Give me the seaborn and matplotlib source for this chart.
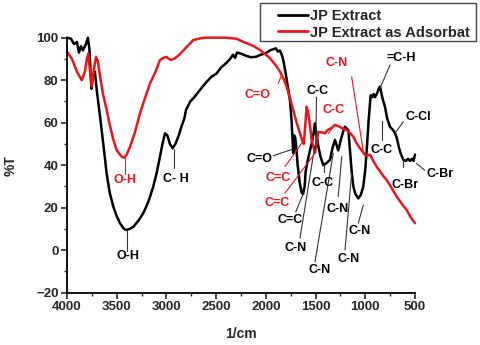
import numpy as np
import pandas as pd
import matplotlib
matplotlib.use('Agg')
import matplotlib.pyplot as plt
import seaborn as sns
from matplotlib.ticker import MultipleLocator
from matplotlib.patches import Rectangle

# JP Extract (black)
wn_extract = [4000, 3960, 3930, 3900, 3880, 3860, 3840, 3810, 3790, 3775, 3755, 3740, 3720, 3700,
              3668, 3630, 3601, 3570, 3534, 3500, 3467, 3430, 3407, 3370, 3333, 3280, 3233, 3180,
              3132, 3100, 3065, 3040, 3014, 2990, 2965, 2938, 2910, 2880, 2850, 2820, 2803, 2760,
              2720, 2663, 2600, 2550, 2495, 2450, 2400, 2360, 2330, 2310, 2290, 2250, 2200, 2150,
              2100, 2050, 2000, 1960, 1930, 1900, 1880, 1860, 1840, 1825, 1800, 1780, 1758, 1740,
              1730, 1725, 1715, 1705, 1695, 1680, 1660, 1640, 1625, 1610, 1600, 1580, 1556, 1540,
              1520, 1506, 1495, 1485, 1473, 1450, 1422, 1390, 1355, 1330, 1305, 1285, 1272, 1240,
              1215, 1204, 1180, 1170, 1150, 1135, 1120, 1100, 1070, 1045, 1020, 1000, 986, 965,
              946, 930, 915, 903, 880, 865, 852, 830, 802, 780, 751, 720, 700, 684, 660, 640, 617,
              590, 570, 550, 530, 515, 500]
t_extract = [100, 99.5, 97, 98, 93, 96, 94, 97, 100, 95, 76, 82, 84, 75,
             63, 48, 36, 27, 20.5, 16, 12.7, 10.2, 9.5, 10, 11, 14, 17.4, 23,
             30, 36, 44, 50, 55, 54, 50, 48, 50, 53.5, 58, 62, 66, 70,
             72, 75.4, 79, 81.5, 83.2, 86, 88, 90, 92, 90.5, 93, 92.5, 91.5, 90.8,
             91, 92, 92.7, 94, 94.5, 95, 93.5, 94, 92, 89.5, 83, 77, 70.7, 60,
             50, 45.6, 54, 53, 49, 40, 32, 27, 26.5, 30, 37, 42, 47, 50,
             55, 59.7, 55, 53, 49, 44, 40, 41, 42.5, 48, 51.9, 49, 47, 53,
             57, 58.1, 57, 56.5, 45, 36, 30, 26.5, 24.4, 26, 30, 38, 47, 62,
             73, 72, 73.5, 72, 74, 76, 77, 72, 67.5, 62, 58, 56.5, 55, 53, 48, 45, 42.5,
             42, 43, 42, 43, 42, 45]

# JP Extract as Adsorbat (red)
wn_adsorbat = [4000, 3950, 3900, 3852, 3820, 3800, 3786, 3770, 3752, 3730, 3708, 3690, 3668, 3640,
               3601, 3570, 3534, 3500, 3450, 3425, 3400, 3366, 3320, 3266, 3220, 3165, 3110, 3065,
               3030, 3000, 2975, 2950, 2910, 2863, 2800, 2729, 2650, 2596, 2500, 2400, 2294, 2250,
               2193, 2120, 2059, 2000, 1958, 1900, 1858, 1820, 1791, 1760, 1725, 1690, 1657, 1630,
               1618, 1605, 1590, 1575, 1556, 1540, 1523, 1506, 1490, 1473, 1440, 1407, 1380, 1340,
               1305, 1280, 1255, 1220, 1187, 1150, 1120, 1090, 1053, 1020, 1003, 980, 953, 920,
               886, 850, 820, 785, 750, 720, 684, 650, 620, 584, 550, 520, 500]
t_adsorbat = [93.4, 90, 84, 80, 84, 90, 92.5, 85, 77, 85, 91, 89, 82, 74,
              66, 59, 52, 47, 44, 43.5, 45, 48.7, 55, 64.4, 71, 78.5, 84, 89.5,
              90.5, 91, 90, 89.5, 90.5, 92.3, 95.5, 98.9, 99.8, 100, 100, 100, 99.5, 98.5,
              97.4, 96, 94.2, 92, 90.3, 87, 84, 80.5, 77, 72, 66, 60, 55, 51,
              50, 58, 67.5, 65, 58.5, 52, 48.7, 46, 50, 55.7, 55.5, 55, 56.5, 57.5,
              59, 58.5, 58, 57, 56.5, 55, 53.4, 50.5, 48, 46, 44.8, 44.5, 45, 42,
              39.3, 37, 35, 33, 30.5, 28, 25.2, 23, 21, 19, 16, 14, 12.7]

series_names = ['JP Extract', 'JP Extract as Adsorbat']
series_colors = ['black', '#e8161b']

# peak labels: text, text x, text y, leader start (x, y), leader end (x, y), colour
peak_labels = ['O-H', 'C- H', 'C=O', 'C-C', 'C=C', 'C-N', 'C-C', 'C-N', 'C-N', 'C-N', 'C-N',
               'C-C', '=C-H', 'C-Cl', 'C-Br', 'C-Br',
               'O-H', 'C=O', 'C=C', 'C=C', 'C-C', 'C-N']
label_x = [3383, 2904, 2066, 1483, 1757, 1697, 1430, 1463, 1282, 1171, 1053,
           835, 634, 467, 601, 249,
           3417, 2086, 1875, 1885, 1322, 1288]
label_y = [-2.5, 33.5, 43, 75, 14, 1, 31.5, -9.5, 19.5, -4, 9,
           47, 90.3, 62.5, 30.7, 35.8,
           33, 73, 33.8, 22, 66, 88]
lead_x0 = [3400, 2925, 1925, 1490, 1700, 1657, 1420, 1506, 1272, 1204, 1070,
           835, 751, 617, 617, 488,
           3417, 1875, 1808, 1808, 1372, 1137]
lead_y0 = [9, 47.5, 44.5, 72, 18, 5.6, 37, -5.4, 25.2, 0.1, 12.7,
           61, 87.2, 60.5, 44, 40.9,
           44, 78.5, 39.3, 26.8, 55, 81.6]
lead_x1 = [3400, 2925, 1725, 1500, 1620, 1506, 1420, 1322, 1237, 1137, 1020,
           835, 852, 701, 617, 404,
           3417, 1841, 1640, 1506, 1338, 1020]
lead_y1 = [-0.5, 38.6, 47.6, 47, 27, 49.5, 40, 45.6, 44, 36.2, 21.3,
           52, 76.2, 55, 39, 37.7,
           36, 82.5, 50.3, 45.6, 57, 46.4]
label_color = ['black'] * 16 + ['#e8161b'] * 6

df = pd.concat([
    pd.DataFrame({'wn': wn_extract, 'T': t_extract, 'sample': series_names[0]}),
    pd.DataFrame({'wn': wn_adsorbat, 'T': t_adsorbat, 'sample': series_names[1]}),
])

sns.set_style('ticks')
plt.rcParams['font.family'] = ['Liberation Sans', 'DejaVu Sans']
plt.rcParams['font.weight'] = 'bold'

W, H = 480, 345
fig = plt.figure(figsize=(W / 100, H / 100), dpi=100)
ax = fig.add_axes([67 / W, 1 - 292.7 / H, 348 / W, 255 / H])

sns.lineplot(data=df, x='wn', y='T', hue='sample', palette=series_colors,
             estimator=None, sort=False, linewidth=1.8, ax=ax, legend=False)

ax.set_xlim(4000, 500)
ax.set_ylim(-20, 100)
ax.xaxis.set_major_locator(MultipleLocator(500))
ax.xaxis.set_minor_locator(MultipleLocator(250))
ax.yaxis.set_major_locator(MultipleLocator(20))
ax.yaxis.set_minor_locator(MultipleLocator(10))
ax.tick_params(which='major', length=4, width=1.2, labelsize=9.5, pad=2)
ax.tick_params(which='minor', length=2.5, width=1.0)
for lab in ax.get_xticklabels() + ax.get_yticklabels():
    lab.set_fontweight('bold')
sns.despine(ax=ax)
for s in ['left', 'bottom']:
    ax.spines[s].set_linewidth(1.3)
    ax.spines[s].set_color('black')
for ln in ax.get_lines():
    ln.set_clip_on(False)

ax.set_xlabel('1/cm', fontsize=10, fontweight='bold', labelpad=10)
ax.set_ylabel('%T', fontsize=10, fontweight='bold', labelpad=13)

for i, lab in enumerate(peak_labels):
    c = label_color[i]
    lc = '#333333' if c == 'black' else c
    ax.plot([lead_x0[i], lead_x1[i]], [lead_y0[i], lead_y1[i]], color=lc,
            linewidth=0.8, clip_on=False)
    ax.text(label_x[i], label_y[i], lab, color=c, fontsize=9, fontweight='bold',
            ha='center', va='center', clip_on=False)

# legend: box drawn on the figure, entries placed inside it
fig.patches.append(Rectangle((260 / W, 1 - 41 / H), 216 / W, 38 / H, transform=fig.transFigure,
                             fill=False, edgecolor='#444444', linewidth=1.0))
handles = [plt.Line2D([], [], color=series_colors[k], linewidth=2) for k in range(2)]
leg = fig.legend(handles, series_names, loc='upper left', bbox_to_anchor=(274 / W, 1 - 5 / H),
                 prop={'size': 10.5, 'weight': 'bold'}, frameon=False,
                 handlelength=2.1, handletextpad=0.15, borderpad=0.25, labelspacing=0.2,
                 borderaxespad=0)

fig.savefig('out.png', dpi=100)
